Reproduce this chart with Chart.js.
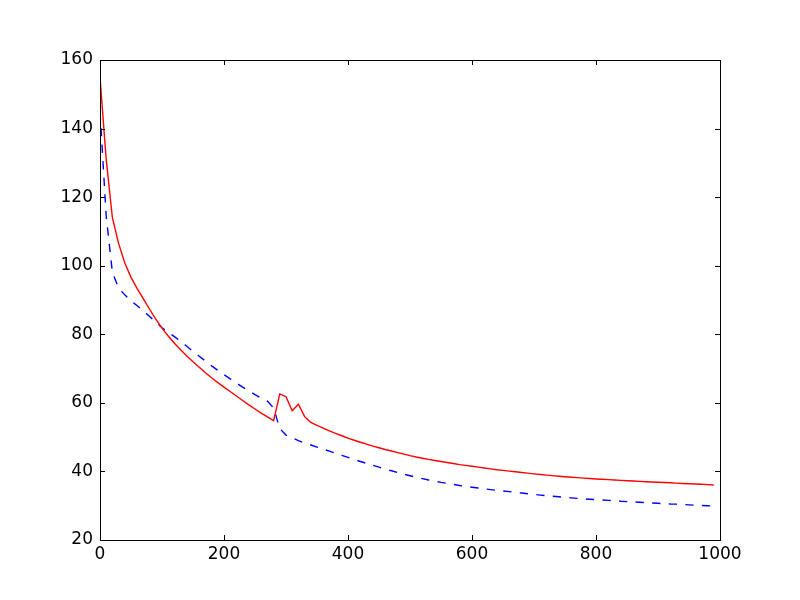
<!DOCTYPE html>
<html>
<head>
<meta charset="utf-8">
<script src="https://cdn.jsdelivr.net/npm/chart.js@4/dist/chart.umd.min.js"></script>
<style>
  html, body { margin: 0; padding: 0; background: #ffffff; }
  #wrap { width: 800px; height: 600px; }
</style>
</head>
<body>
<div id="wrap"><canvas id="c" width="800" height="600"></canvas></div>
<script>
// x positions of samples
const xValues = [
  0,10,20,30,40,50,60,70,80,90,
  100,110,120,130,140,150,160,170,180,190,
  200,210,220,230,240,250,260,270,280,290,
  300,310,320,330,340,350,360,370,380,390,
  400,410,420,430,440,450,460,470,480,490,
  500,510,520,530,540,550,560,570,580,590,
  600,610,620,630,640,650,660,670,680,690,
  700,710,720,730,740,750,760,770,780,790,
  800,810,820,830,840,850,860,870,880,890,
  900,910,920,930,940,950,960,970,980,990
];

// red solid series
const redValues = [
  155,131,114,106.5,100.8,96.6,93.3,90.3,87.3,84.4,
  81.8,79.5,77.4,75.5,73.7,72.0,70.4,68.8,67.3,65.9,
  64.6,63.3,62.0,60.7,59.4,58.2,57.0,55.9,54.8,62.6,
  61.8,57.7,59.6,56.0,54.3,53.4,52.6,51.8,51.1,50.4,
  49.7,49.1,48.5,47.95,47.4,46.9,46.4,45.95,45.5,45.05,
  44.6,44.2,43.85,43.5,43.2,42.9,42.6,42.3,42.0,41.75,
  41.5,41.25,41.0,40.75,40.5,40.3,40.1,39.9,39.7,39.5,
  39.3,39.1,38.93,38.77,38.61,38.46,38.32,38.18,38.05,37.93,
  37.81,37.7,37.6,37.5,37.4,37.3,37.2,37.1,37.0,36.92,
  36.84,36.76,36.68,36.6,36.5,36.42,36.34,36.25,36.15,36.05
];

// blue dashed series
const blueValues = [
  145,114.5,98,93.5,91.5,89.8,88.3,86.8,85.2,83.6,
  81.9,80.6,79.3,78.0,76.5,75.0,73.6,72.2,70.8,69.5,
  68.2,67.0,65.8,64.6,63.5,62.4,61.4,60.5,58.5,52.5,
  50.6,49.8,49.0,48.3,47.7,47.1,46.5,45.9,45.3,44.7,
  44.1,43.5,42.9,42.35,41.8,41.25,40.7,40.2,39.7,39.2,
  38.75,38.3,37.9,37.5,37.15,36.8,36.5,36.2,35.9,35.65,
  35.4,35.15,34.9,34.7,34.5,34.3,34.1,33.9,33.7,33.5,
  33.3,33.1,32.9,32.75,32.6,32.45,32.3,32.15,32.0,31.9,
  31.8,31.65,31.55,31.45,31.3,31.2,31.1,31.0,30.9,30.8,
  30.7,30.6,30.5,30.45,30.35,30.25,30.15,30.05,30.0,29.9
];

// axis tick labels
const xTicks = [0, 200, 400, 600, 800, 1000];
const yTicks = [20, 40, 60, 80, 100, 120, 140, 160];

const toPoints = (xs, ys) => xs.map((x, i) => ({ x: x, y: ys[i] }));

// Frame + inward ticks on all four sides (matplotlib classic look)
const framePlugin = {
  id: 'frame',
  afterDatasetsDraw(chart) {
    const { ctx, chartArea: a, scales } = chart;
    const L = 5;
    ctx.save();
    ctx.strokeStyle = '#000000';
    ctx.lineWidth = 1;
    ctx.beginPath();
    xTicks.forEach(v => {
      const px = Math.round(scales.x.getPixelForValue(v)) + 0.5;
      ctx.moveTo(px, a.bottom); ctx.lineTo(px, a.bottom - L);
      ctx.moveTo(px, a.top); ctx.lineTo(px, a.top + L);
    });
    yTicks.forEach(v => {
      const py = Math.round(scales.y.getPixelForValue(v)) + 0.5;
      ctx.moveTo(a.left, py); ctx.lineTo(a.left + L, py);
      ctx.moveTo(a.right, py); ctx.lineTo(a.right - L, py);
    });
    ctx.stroke();
    ctx.strokeRect(Math.round(a.left) + 0.5, Math.round(a.top) + 0.5,
                   Math.round(a.right - a.left), Math.round(a.bottom - a.top));
    ctx.restore();
  }
};

new Chart(document.getElementById('c'), {
  type: 'line',
  data: {
    datasets: [
      {
        data: toPoints(xValues, redValues),
        borderColor: '#ff0000',
        borderWidth: 1.4,
        pointRadius: 0,
        tension: 0,
        fill: false
      },
      {
        data: toPoints(xValues, blueValues),
        borderColor: '#0000ff',
        borderWidth: 1.4,
        borderDash: [8.3, 8.3],
        pointRadius: 0,
        tension: 0,
        fill: false
      }
    ]
  },
  options: {
    responsive: false,
    animation: false,
    devicePixelRatio: 1,
    layout: { padding: { top: 60, right: 80, left: 0, bottom: 0 } },
    plugins: { legend: { display: false }, tooltip: { enabled: false } },
    scales: {
      x: {
        type: 'linear',
        min: 0, max: 1000,
        afterFit: s => { s.height = 60; },
        afterBuildTicks: s => { s.ticks = xTicks.map(v => ({ value: v })); },
        grid: { display: false, drawTicks: false },
        border: { display: false },
        ticks: {
          padding: 4,
          maxRotation: 0,
          autoSkip: false,
          color: '#000000',
          callback: v => String(v),
          font: { family: 'DejaVu Sans', size: 17 }
        }
      },
      y: {
        type: 'linear',
        min: 20, max: 160,
        afterFit: s => { s.width = 100; },
        afterBuildTicks: s => { s.ticks = yTicks.map(v => ({ value: v })); },
        grid: { display: false, drawTicks: false },
        border: { display: false },
        ticks: {
          padding: 7,
          autoSkip: false,
          color: '#000000',
          callback: v => String(v),
          font: { family: 'DejaVu Sans', size: 17 }
        }
      }
    }
  },
  plugins: [framePlugin]
});
</script>
</body>
</html>
